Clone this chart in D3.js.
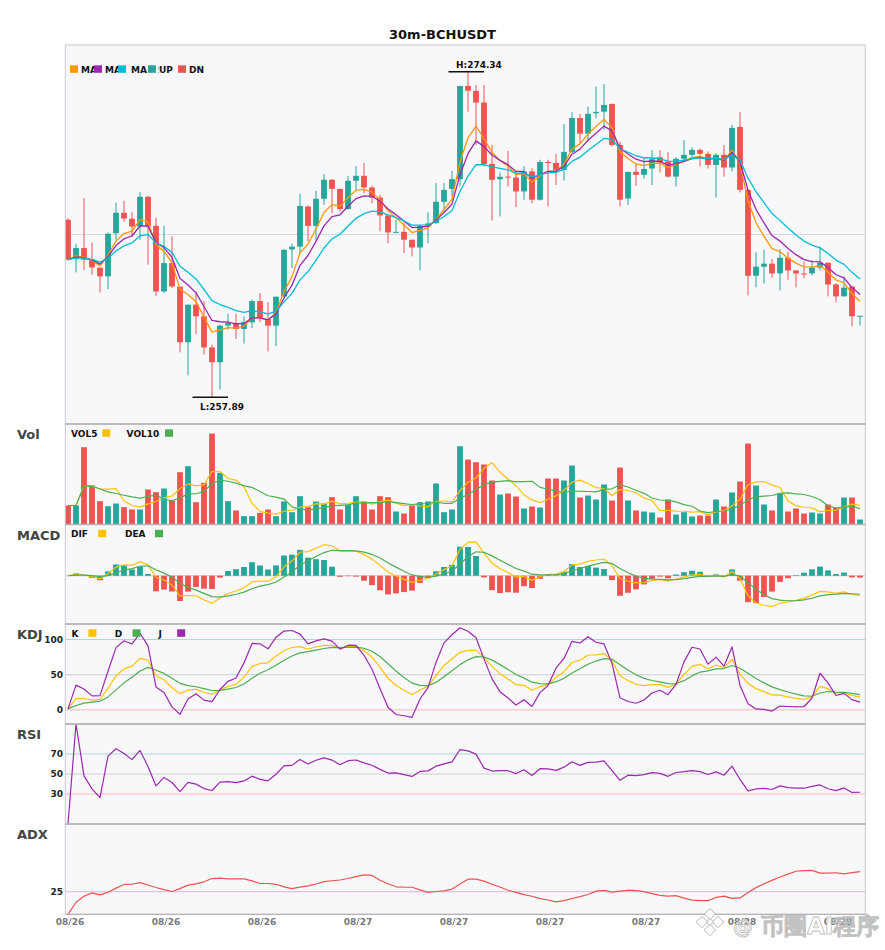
<!DOCTYPE html>
<html>
<head>
<meta charset="utf-8">
<script src="https://cdn.jsdelivr.net/npm/d3@7"></script>
<style>
body { margin: 0; background: #fff; }
text { font-family: "DejaVu Sans", sans-serif; font-weight: bold; }
</style>
</head>
<body>
<script>
// ---- data (30m candles, 08/26 06:00 onward) ----
const opens = [266.86,264.87,265.43,264.87,264.44,264.00,266.18,267.21,266.91,266.52,
268.02,266.55,263.24,264.67,263.48,260.67,262.57,261.98,260.41,259.66,
261.51,261.64,261.34,261.68,262.75,261.85,261.51,262.99,265.36,265.50,
267.53,266.55,267.92,268.88,268.42,267.40,268.83,269.08,268.49,267.98,
267.08,266.20,266.25,265.85,265.46,266.55,266.69,267.77,268.42,268.91,
273.62,273.37,272.78,269.68,268.91,269.04,268.99,268.29,269.30,267.87,
269.78,269.73,269.38,270.29,272.00,271.21,272.24,272.32,272.71,270.64,
267.93,269.28,269.13,269.45,270.02,269.80,269.04,269.94,270.14,270.39,
270.19,269.63,270.14,269.50,271.55,268.37,264.03,264.49,264.64,264.15,
264.94,264.30,264.15,264.15,264.44,264.69,263.59,262.99,263.49,261.98];
const closes = [264.84,265.43,264.84,264.45,264.00,266.15,267.21,266.92,266.52,268.02,
266.52,263.24,264.67,263.49,260.67,262.57,261.98,260.41,259.66,261.51,
261.64,261.34,261.68,262.75,261.90,261.51,262.97,265.34,265.50,267.56,
266.55,267.92,268.88,268.42,267.40,268.83,269.08,268.49,267.98,267.08,
266.22,266.25,265.85,265.46,266.55,266.67,267.77,268.37,268.91,273.62,
273.38,272.78,269.68,268.88,269.03,268.99,268.29,269.30,267.87,269.78,
269.73,269.38,270.29,272.00,271.21,272.21,272.31,272.66,270.64,267.87,
269.28,269.13,269.43,269.92,269.75,269.04,269.94,270.14,270.39,270.19,
269.63,270.14,269.50,271.50,268.37,264.03,264.49,264.64,264.15,264.94,
264.30,264.15,264.10,264.44,264.69,263.59,262.99,263.43,261.98,262.01];
const highs = [266.94,265.65,267.97,265.71,264.44,266.22,267.72,267.82,267.26,268.27,
268.07,266.97,266.55,266.02,263.48,262.57,263.24,262.74,260.55,261.56,
262.11,262.11,261.98,262.82,263.16,262.70,262.99,265.38,265.65,268.17,
267.58,268.32,269.18,268.91,268.42,269.08,269.58,269.73,268.59,268.12,
267.08,266.86,266.72,265.85,266.61,267.24,268.71,268.71,269.33,273.62,
274.34,273.67,273.67,270.64,269.25,270.34,269.30,269.58,269.46,269.89,
269.89,270.17,271.70,272.31,272.21,272.58,273.59,273.72,272.74,270.81,
269.28,269.72,270.02,270.39,270.39,270.27,270.02,270.89,270.52,270.46,
270.31,270.22,270.63,271.65,272.31,268.37,265.24,265.34,264.89,265.38,
265.24,264.30,264.74,264.81,265.51,264.69,263.65,264.00,263.49,262.01];
const lows = [264.81,264.20,264.33,264.08,263.19,263.36,265.85,266.76,265.98,265.85,
264.59,263.02,263.16,263.41,260.16,259.00,261.10,260.05,257.89,258.28,
261.31,260.84,260.60,261.39,261.68,260.21,260.47,262.96,264.42,265.18,
265.76,265.81,267.61,267.19,267.28,267.36,268.34,268.20,267.70,266.27,
265.68,266.18,265.18,265.01,264.30,265.68,266.66,267.28,268.03,268.54,
272.32,270.64,269.55,266.82,267.03,268.54,267.50,267.87,267.70,267.83,
267.53,268.62,268.84,270.22,270.73,270.89,271.99,271.40,270.56,267.53,
267.60,268.57,268.93,268.62,269.25,268.99,268.54,269.80,270.02,269.55,
269.45,267.98,269.04,269.30,268.24,263.04,263.44,263.63,263.93,263.29,
263.83,263.44,263.90,264.05,264.30,262.99,262.69,262.99,261.47,261.51];
const volumes = [570,570,2320,1170,700,550,630,520,450,450,
1050,970,1080,720,1570,1750,670,1250,2730,1550,
700,420,250,250,350,450,250,690,370,850,
520,690,630,820,450,600,850,690,450,850,
820,390,330,570,670,690,1230,370,450,2350,
1950,1870,1800,1320,900,930,840,480,540,510,
1380,1380,1320,1770,810,870,750,1200,720,1710,
720,420,390,360,210,750,300,370,240,270,
270,750,540,960,1290,2430,1170,600,420,930,
390,480,330,360,330,600,510,810,810,150];

const tickIndex = [0, 12, 24, 36, 48, 60, 72, 84, 96];
const tickLabels = ["08/26","08/26","08/26","08/27","08/27","08/27","08/27","08/28","08/28"];
const kdjTicks = [0, 50, 100];
const rsiTicks = [30, 50, 70];
const adxTicks = [25];
const chartTitle = "30m-BCHUSDT";
// indicator periods that fit the drawn lines
const maSpans = [5, 7, 12];
const macdFast = 5, macdSlow = 12, macdSignal = 5;

// ---- layout ----
const W = 885, H = 950;
const left = 65.3, right = 865.3;
const P = {
	main: [45, 424], vol: [424, 524.5], macd: [524.5, 624],
	kdj: [624, 724], rsi: [724, 824], adx: [824, 914.3]
};
const UP = "#26a69a", DN = "#ef5350", BG = "#f8f8fb";
const C5 = "#ff9800", C10 = "#9c27b0", C20 = "#00bcd4";
const AMB = "#ffc107", GRN = "#4caf50";
const n = closes.length;
const idx = d3.range(n);

// ---- indicators ----
function ma(arr, k) {
	return arr.map((_, i) => d3.mean(arr.slice(Math.max(0, i - k + 1), i + 1)));
}
function ewm(arr, a) {
	let prev, out = [];
	arr.forEach((v, i) => { prev = i == 0 ? v : a * v + (1 - a) * prev; out.push(prev); });
	return out;
}
const span = k => 2 / (k + 1);
const maA = ewm(closes, span(maSpans[0]));
const maB = ewm(closes, span(maSpans[1]));
const maC = ewm(closes, span(maSpans[2]));
const vol5 = ma(volumes, 5), vol10 = ma(volumes, 10);

const emaF = ewm(closes, span(macdFast)), emaS = ewm(closes, span(macdSlow));
const dif = idx.map(i => emaF[i] - emaS[i]);
const dea = ewm(dif, span(macdSignal));
const hist = idx.map(i => 2 * (dif[i] - dea[i]));

const rsv = idx.map(i => {
	const s = Math.max(0, i - 8);
	const hh = d3.max(highs.slice(s, i + 1)), ll = d3.min(lows.slice(s, i + 1));
	return hh == ll ? 0 : (closes[i] - ll) / (hh - ll) * 100;
});
const kLine = ewm(rsv, 1 / 3), dLine = ewm(kLine, 1 / 3);
const jLine = idx.map(i => 3 * kLine[i] - 2 * dLine[i]);

const diffs = idx.map(i => i == 0 ? 0 : closes[i] - closes[i - 1]);
const ag = ewm(diffs.map(d => Math.max(d, 0)), 1 / 14);
const al = ewm(diffs.map(d => Math.max(-d, 0)), 1 / 14);
const rsi = idx.map(i => al[i] == 0 ? (ag[i] == 0 ? 0 : 100) : 100 - 100 / (1 + ag[i] / al[i]));

const pdm = idx.map(i => {
	if (i == 0) return 0;
	const up = highs[i] - highs[i - 1], dn = lows[i - 1] - lows[i];
	return up > dn && up > 0 ? up : 0;
});
const mdm = idx.map(i => {
	if (i == 0) return 0;
	const up = highs[i] - highs[i - 1], dn = lows[i - 1] - lows[i];
	return dn > up && dn > 0 ? dn : 0;
});
const sp = ewm(pdm, span(14)), sm = ewm(mdm, span(14));
const dx = idx.map(i => sp[i] + sm[i] > 0 ? 100 * Math.abs(sp[i] - sm[i]) / (sp[i] + sm[i]) : 0);
const adx = ewm(dx, span(14));

// ---- scales ----
const x = d3.scaleLinear().domain([0, n - 1]).range([68, 860]);
const lo = d3.min(lows), hi = d3.max(highs), pad = (hi - lo) * 0.082;
const yMain = d3.scaleLinear().domain([lo - pad, hi + pad]).range([P.main[1], P.main[0]]);
const yVol = d3.scaleLinear().domain([0, d3.max(volumes) * 1.105]).range([P.vol[1], P.vol[0]]);
const mLo = d3.min([d3.min(dif), d3.min(dea), d3.min(hist)]);
const mHi = d3.max([d3.max(dif), d3.max(dea), d3.max(hist)]);
const mPad = (mHi - mLo) * 0.27;
const yMacd = d3.scaleLinear().domain([mLo - mPad, mHi + mPad]).range([P.macd[1], P.macd[0]]);
const yKdj = d3.scaleLinear().domain([-20, 122]).range([P.kdj[1], P.kdj[0]]);
const yRsi = d3.scaleLinear().domain([0, 100]).range([P.rsi[1], P.rsi[0]]);
const yAdx = d3.scaleLinear().domain([0, 100]).range([P.adx[1], P.adx[0]]);

const svg = d3.select("body").append("svg")
	.attr("width", W)
	.attr("height", H);

// panel backgrounds
Object.values(P).forEach(p => {
	svg.append("rect")
		.attr("x", left).attr("y", p[0])
		.attr("width", right - left).attr("height", p[1] - p[0])
		.attr("fill", BG);
});

function hline(y, color, w) {
	svg.append("line")
		.attr("x1", left).attr("x2", right)
		.attr("y1", y).attr("y2", y)
		.attr("stroke", color).attr("stroke-width", w || 1);
}

// gridlines
hline(yMain((lo - pad + hi + pad) / 2), "#dadae2");
hline(yMacd(0), "#c8c8c8");
hline(yKdj(100), "#a6dcd6"); hline(yKdj(50), "#cfcfcf"); hline(yKdj(0), "#f8b8b8");
hline(yRsi(70), "#a6dcd6"); hline(yRsi(50), "#cfcfcf"); hline(yRsi(30), "#f8b8b8");
hline(yAdx(25), "#dcb0e4");

function path(data, y, color, w) {
	svg.append("path")
		.datum(data)
		.attr("fill", "none")
		.attr("stroke", color)
		.attr("stroke-width", w || 1.3)
		.attr("stroke-linejoin", "round")
		.attr("d", d3.line().x((d, i) => x(i)).y(d => y(d)));
}

// candles
const bw = 5.8;
const candle = svg.append("g").selectAll("g")
	.data(idx)
	.enter()
	.append("g");
candle.append("line")
	.attr("x1", i => x(i)).attr("x2", i => x(i))
	.attr("y1", i => yMain(highs[i])).attr("y2", i => yMain(lows[i]))
	.attr("stroke", i => closes[i] >= opens[i] ? UP : DN)
	.attr("stroke-width", 1);
candle.append("rect")
	.attr("x", i => x(i) - bw / 2)
	.attr("width", bw)
	.attr("y", i => yMain(Math.max(opens[i], closes[i])))
	.attr("height", i => Math.max(1, Math.abs(yMain(opens[i]) - yMain(closes[i]))))
	.attr("fill", i => closes[i] >= opens[i] ? UP : DN);

path(maA, yMain, C5);
path(maB, yMain, C10);
path(maC, yMain, C20);

// high / low markers
const iHi = d3.maxIndex(highs), iLo = d3.minIndex(lows);
[[iHi, highs[iHi], "H:", -3.5], [iLo, lows[iLo], "L:", 12.5]].forEach(([i, v, lab, dy]) => {
	svg.append("line")
		.attr("x1", x(i) - 19.5).attr("x2", x(i) + 16)
		.attr("y1", yMain(v)).attr("y2", yMain(v))
		.attr("stroke", "#111").attr("stroke-width", 1.5);
	svg.append("text")
		.attr("x", x(i) - 12).attr("y", yMain(v) + dy)
		.attr("font-size", 9).attr("fill", "#111")
		.text(lab + v.toFixed(2));
});

// volume
svg.append("g").selectAll("rect")
	.data(idx)
	.enter()
	.append("rect")
	.attr("x", i => x(i) - bw / 2)
	.attr("width", bw)
	.attr("y", i => yVol(volumes[i]))
	.attr("height", i => yVol(0) - yVol(volumes[i]))
	.attr("fill", i => closes[i] >= opens[i] ? UP : DN);
path(vol5, yVol, AMB, 1.2);
path(vol10, yVol, GRN, 1.2);

// macd
svg.append("g").selectAll("rect")
	.data(idx)
	.enter()
	.append("rect")
	.attr("x", i => x(i) - bw / 2)
	.attr("width", bw)
	.attr("y", i => yMacd(Math.max(0, hist[i])))
	.attr("height", i => Math.abs(yMacd(hist[i]) - yMacd(0)))
	.attr("fill", i => hist[i] >= 0 ? UP : DN);
path(dif, yMacd, AMB, 1.2);
path(dea, yMacd, GRN, 1.2);

// kdj, rsi, adx
path(kLine, yKdj, AMB, 1.2);
path(dLine, yKdj, GRN, 1.2);
path(jLine, yKdj, C10, 1.2);
path(rsi, yRsi, C10, 1.2);
path(adx, yAdx, DN, 1.2);

// borders
Object.values(P).forEach(p => {
	svg.append("rect")
		.attr("x", left).attr("y", p[0])
		.attr("width", right - left).attr("height", p[1] - p[0])
		.attr("fill", "none").attr("stroke", "#c9c9d1");
});
[P.vol[0], P.macd[0], P.kdj[0], P.rsi[0], P.adx[0], P.adx[1]].forEach(y => hline(y, "#b2b2b2", 1.3));

// title
svg.append("text")
	.attr("x", W / 2).attr("y", 39)
	.attr("text-anchor", "middle")
	.attr("font-size", 13).attr("fill", "#111")
	.text(chartTitle);

// panel names
[["Vol", P.vol], ["MACD", P.macd], ["KDJ", P.kdj], ["RSI", P.rsi], ["ADX", P.adx]].forEach(([t, p]) => {
	svg.append("text")
		.attr("x", 17).attr("y", p[0] + 15)
		.attr("font-size", 13).attr("fill", "#444")
		.text(t);
});

// y tick labels
function yTicks(vals, y) {
	vals.forEach(v => {
		svg.append("text")
			.attr("x", 63).attr("y", y(v))
			.attr("dy", "0.35em")
			.attr("text-anchor", "end")
			.attr("font-size", 9).attr("fill", "#222")
			.text(v);
	});
}
yTicks(kdjTicks, yKdj);
yTicks(rsiTicks, yRsi);
yTicks(adxTicks, yAdx);

// x tick labels
tickIndex.forEach((t, k) => {
	svg.append("text")
		.attr("x", x(t) + 2).attr("y", 925)
		.attr("text-anchor", "middle")
		.attr("font-size", 9).attr("fill", "#777")
		.text(tickLabels[k]);
});

// legends
function legendSquare(xp, y, color) {
	svg.append("rect")
		.attr("x", xp).attr("y", y)
		.attr("width", 8).attr("height", 7.5)
		.attr("fill", color);
}
function legendText(xp, y, t) {
	svg.append("text")
		.attr("x", xp).attr("y", y)
		.attr("font-size", 9).attr("fill", "#111")
		.text(t);
}
// main: square then label; each later square sits over the tail of the label before it
const mainLegend = [
	["MA" + maSpans[0], C5, 70, 81], ["MA" + maSpans[1], C10, 94, 105],
	["MA" + maSpans[2], C20, 118, 131], ["UP", UP, 148, 159], ["DN", DN, 178, 189]
];
mainLegend.forEach(([t, c, sx, tx]) => legendText(tx, 72.8, t));
mainLegend.forEach(([t, c, sx, tx], k) => {
	if (k > 0) svg.append("rect").attr("x", sx).attr("y", 63).attr("width", tx - sx - 0.5).attr("height", 12).attr("fill", BG);
	legendSquare(sx, 65.3, c);
});

const subLegends = [
	[P.vol, [["VOL5", AMB, 71, 102.3], ["VOL10", GRN, 126.6, 165]]],
	[P.macd, [["DIF", AMB, 71, 98.2], ["DEA", GRN, 125, 155]]],
	[P.kdj, [["K", AMB, 71.5, 88.4], ["D", GRN, 114.7, 132.6], ["J", C10, 158.6, 177.2]]]
];
subLegends.forEach(([p, items]) => {
	items.forEach(([t, c, tx, sx]) => {
		legendText(tx, p[0] + 12.8, t);
		legendSquare(sx, p[0] + 5.3, c);
	});
});

// watermark
const wm = svg.append("g").attr("opacity", 0.85);
[[710, 914, 4], [702, 922, 4], [718, 922, 4], [710, 930, 4], [710, 922, 2.5]].forEach(([cx, cy, r]) => {
	wm.append("rect")
		.attr("x", cx - r).attr("y", cy - r)
		.attr("width", 2 * r).attr("height", 2 * r)
		.attr("transform", `rotate(45 ${cx} ${cy})`)
		.attr("fill", "#fff").attr("stroke", "#bdbdbd").attr("stroke-width", 1);
});
wm.append("text")
	.attr("x", 733).attr("y", 934)
	.attr("font-size", 20).attr("font-weight", "normal")
	.attr("fill", "#fff").attr("stroke", "#b8b8b8").attr("stroke-width", 0.9)
	.text("@");
wm.append("text")
	.attr("x", 761).attr("y", 934)
	.attr("font-family", "Noto Sans CJK SC")
	.attr("font-size", 23).attr("font-weight", "normal")
	.attr("fill", "#fff").attr("stroke", "#b8b8b8").attr("stroke-width", 0.9)
	.text("币圈AI程序");
</script>
</body>
</html>
